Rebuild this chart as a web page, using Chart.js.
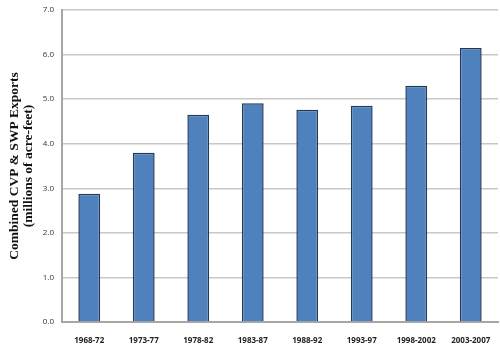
<!DOCTYPE html>
<html>
<head>
<meta charset="utf-8">
<script src="https://cdn.jsdelivr.net/npm/chart.js@4/dist/chart.umd.min.js"></script>
<style>
  html, body { margin: 0; padding: 0; background: #fff; }
  #wrap { width: 500px; height: 345px; }
</style>
</head>
<body>
<div id="wrap"><canvas id="exportsChart"></canvas></div>
<script>
const periods = ['1968-72', '1973-77', '1978-82', '1983-87', '1988-92', '1993-97', '1998-2002', '2003-2007']
const exportsMaf = [2.88, 3.80, 4.65, 4.91, 4.76, 4.85, 5.30, 6.15]
const yTitle = ['Combined CVP & SWP Exports', '(millions of acre-feet)']

new Chart(document.getElementById('exportsChart'), {
    type: 'bar',
    data: {
        labels: periods,
        datasets: [{
            data: exportsMaf,
            backgroundColor: '#4f81bd',
            borderColor: '#22395a',
            borderWidth: 1.5,
            barPercentage: 0.4,
            categoryPercentage: 1.0
        }]
    },
    options: {
        responsive: true,
        maintainAspectRatio: false,
        animation: false,
        layout: { padding: { top: 0, right: 2, left: 0, bottom: 0 } },
        plugins: {
            legend: { display: false },
            tooltip: { enabled: false }
        },
        scales: {
            x: {
                grid: { display: false },
                border: { color: '#a6a6a6', width: 2 },
                ticks: {
                    color: '#222',
                    font: { family: 'Open Sans', size: 8, weight: 'bold' },
                    maxRotation: 0,
                    padding: 6
                },
                afterFit: (scale) => { scale.height = 23 }
            },
            y: {
                min: 0,
                max: 7,
                ticks: {
                    stepSize: 1,
                    color: '#333',
                    font: { family: 'Open Sans', size: 8, lineHeight: 0.5 },
                    padding: 8,
                    callback: (v) => v.toFixed(1)
                },
                grid: { color: '#c8c8c8', lineWidth: 1.5, drawTicks: false },
                border: { color: '#a6a6a6', width: 2 },
                title: {
                    display: true,
                    text: yTitle,
                    color: '#111',
                    font: { family: 'Liberation Serif', size: 13.5, weight: 'bold', lineHeight: 1.0 },
                    padding: { top: 8, bottom: 0 }
                },
                afterFit: (scale) => { scale.width = 62 }
            }
        }
    }
})
</script>
</body>
</html>
